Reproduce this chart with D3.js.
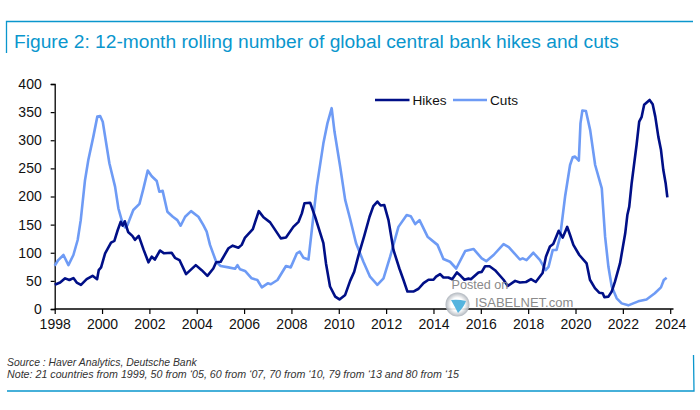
<!DOCTYPE html>
<html><head><meta charset="utf-8">
<script src="https://cdn.jsdelivr.net/npm/d3@7"></script>
<style>html,body{margin:0;padding:0;background:#fff}svg{display:block}text{font-family:"Liberation Sans",Arial,sans-serif}</style>
</head><body><svg id="c" width="700" height="410"></svg>
<script>
const title = "Figure 2: 12-month rolling number of global central bank hikes and cuts";
const sourceLine = "Source : Haver Analytics, Deutsche Bank";
const noteLine = "Note: 21 countries from 1999, 50 from ‘05, 60 from ‘07, 70 from ‘10, 79 from ‘13 and 80 from ‘15";
const yTicks = [0,50,100,150,200,250,300,350,400];
const xTicks = [1998,2000,2002,2004,2006,2008,2010,2012,2014,2016,2018,2020,2022,2024];
const hikesYears = [1998,1998.23,1998.44,1998.62,1998.79,1998.93,1999.11,1999.35,1999.6,1999.79,1999.86,1999.96,2000.13,2000.38,2000.52,2000.66,2000.79,2000.87,2000.96,2001.1,2001.28,2001.39,2001.55,2001.75,2001.96,2002.1,2002.23,2002.45,2002.62,2002.94,2003.08,2003.27,2003.55,2003.96,2004.21,2004.45,2004.7,2004.82,2005.01,2005.34,2005.52,2005.76,2005.9,2006.04,2006.37,2006.62,2006.82,2007.1,2007.55,2007.77,2008.08,2008.3,2008.44,2008.55,2008.79,2009,2009.35,2009.46,2009.63,2009.85,2010.03,2010.27,2010.48,2010.65,2010.83,2011.07,2011.3,2011.46,2011.63,2011.77,2011.92,2012.1,2012.31,2012.56,2012.73,2012.9,2013.15,2013.37,2013.58,2013.79,2014,2014.11,2014.28,2014.42,2014.63,2014.79,2014.99,2015.15,2015.31,2015.48,2015.58,2015.9,2016.04,2016.18,2016.37,2016.6,2016.96,2017.14,2017.45,2017.65,2017.91,2018.12,2018.32,2018.61,2018.75,2018.92,2019.06,2019.29,2019.46,2019.56,2019.65,2019.77,2019.91,2020.16,2020.47,2020.61,2020.82,2021,2021.15,2021.22,2021.39,2021.53,2021.67,2021.88,2022.1,2022.19,2022.27,2022.37,2022.58,2022.69,2022.79,2022.9,2023.13,2023.26,2023.37,2023.5,2023.61,2023.71,2023.81,2023.88];
const hikesValues = [43,47,54.5,51.5,55,47,43,53,59,53,69,74,99,118,121,140,155,148,156,137,130,123,130,106,83,93,88,104,99,100,91,87,62,78,69,59,72,83,84,108,112.6,109,114,127,142,174,163,154,125.6,127,146,155,170,188,189,164,117,81,40,22,17,25,50,66,95,129,164,183,191,184,185,158,105,72,52,31,31,36,46,52,52,57.5,62,56,56,53,65,59,52,54,53,65,66,76,76,69,52,41,50,47,48,53,48,64,93,111,115.5,139,127,137,146,131.6,114,96,81,52,37,29,28,21,22,31,49,81,134.5,167,182,223,292,333,341,363,371.6,364,342,306,283,247,223,198.5];
const cutsYears = [1998,1998.15,1998.37,1998.58,1998.79,1998.97,1999.1,1999.28,1999.42,1999.63,1999.8,1999.92,2000.03,2000.31,2000.55,2000.69,2000.83,2000.97,2001.07,2001.18,2001.32,2001.58,2001.75,2001.93,2002.1,2002.31,2002.42,2002.56,2002.76,2002.99,2003.18,2003.32,2003.51,2003.76,2004.07,2004.28,2004.42,2004.56,2004.82,2005.01,2005.34,2005.62,2005.72,2005.83,2006.04,2006.32,2006.56,2006.75,2007,2007.13,2007.41,2007.77,2007.97,2008.23,2008.35,2008.51,2008.72,2008.86,2009.07,2009.35,2009.52,2009.7,2009.82,2010.06,2010.27,2010.48,2010.73,2011.04,2011.32,2011.63,2011.89,2012.17,2012.52,2012.87,2013.04,2013.23,2013.41,2013.75,2014.17,2014.42,2014.7,2014.96,2015.34,2015.69,2016.04,2016.23,2016.54,2016.96,2017.18,2017.65,2017.77,2017.93,2018.22,2018.5,2018.74,2018.86,2019.04,2019.2,2019.35,2019.56,2019.77,2019.88,2019.98,2020.14,2020.21,2020.29,2020.44,2020.62,2020.83,2021.11,2021.25,2021.39,2021.53,2021.74,2021.95,2022.23,2022.65,2023,2023.35,2023.61,2023.73,2023.85];
const cutsValues = [77,87,96,78,96,122.7,158,229,265,306,342,343,333,259,217.5,179,158,145,149,161,176,187,214.5,246,236,227.5,208.6,210,173,164,158,148,164,174,164,149,137.5,114,84,76.4,74,71.7,78,70.5,67.6,54.5,51.6,38.5,45.6,44,51.6,76.4,74,99,102,91,88,140,217.5,294.5,330,357,315,253,194,160,117,84,57.5,43,54.5,93,146,167,165,151,158,128.6,114,89,84,72,103,106.7,90,85,96,115.5,110,88,90,87,100,87,69,75,105,105,128.6,200,256,269.6,271,263.7,330,353,352,318,256,214.5,128.6,75,40,19,10,6.5,13.6,17,28,38.5,51.6,55.7];
const seriesNames = ["Hikes","Cuts"];
const seriesColors = ["#000F87","#6E9BF5"];

const svg = d3.select("#c");
const x = d3.scaleLinear().domain([1998,2024]).range([54.7,670.2]);
const y = d3.scaleLinear().domain([0,400]).range([309,84]);
const blue = "#0A96CD";

const frame = d3.path();
frame.moveTo(6.5,53); frame.lineTo(6.5,21.5); frame.lineTo(693,21.5);
frame.moveTo(7,391); frame.lineTo(694,391); frame.lineTo(693.5,355);
svg.append("path").attr("d",frame.toString()).attr("fill","none").attr("stroke",blue).attr("stroke-width",1.3);

svg.append("text").attr("x",14).attr("y",47.5).attr("fill",blue).attr("font-size",19.2).text(title);

const ax = svg.append("g").attr("transform","translate(0,309)")
  .call(d3.axisBottom(x).tickValues(xTicks).tickFormat(d3.format("d")).tickSize(5).tickPadding(5.5));
const ay = svg.append("g").attr("transform","translate(54.7,0)")
  .call(d3.axisLeft(y).tickValues(yTicks).tickSize(4).tickPadding(9));
[ax,ay].forEach(g=>{
  g.selectAll("path.domain").attr("stroke","#000").attr("stroke-width",1.3);
  g.selectAll("line").attr("stroke","#000").attr("stroke-width",1.2);
  g.selectAll("text").attr("fill","#111").attr("font-size",14).attr("font-family",'"Liberation Sans",Arial,sans-serif');
});
ax.select("path.domain").attr("d","M54.7,0H673.5");

const line = d3.line().x(d=>x(d[0])).y(d=>y(d[1])).curve(d3.curveLinear);
svg.append("path").datum(d3.zip(cutsYears,cutsValues)).attr("d",line).attr("fill","none")
  .attr("stroke",seriesColors[1]).attr("stroke-width",2.6).attr("stroke-linejoin","round");
svg.append("path").datum(d3.zip(hikesYears,hikesValues)).attr("d",line).attr("fill","none")
  .attr("stroke",seriesColors[0]).attr("stroke-width",2.6).attr("stroke-linejoin","round");

// legend
const lg = [[375,409.5,412.5],[453,487,490]];
seriesNames.forEach((n,i)=>{
  svg.append("line").attr("x1",lg[i][0]).attr("x2",lg[i][1]).attr("y1",100).attr("y2",100)
    .attr("stroke",seriesColors[i]).attr("stroke-width",2.6);
  svg.append("text").attr("x",lg[i][2]).attr("y",104.8).attr("fill","#111").attr("font-size",13.6).text(n);
});

// watermark
const wm = svg.append("g");
wm.append("text").attr("x",451.5).attr("y",288.5).attr("fill","#8a8a8a").attr("font-size",12.6).text("Posted on");
wm.append("text").attr("x",475).attr("y",306.5).attr("fill","#8a8a8a").attr("font-size",13).text("ISABELNET.com");
const defs = svg.append("defs");
const rg = defs.append("radialGradient").attr("id","g");
rg.append("stop").attr("offset","0.55").attr("stop-color","#fff");
rg.append("stop").attr("offset","1").attr("stop-color","#a9b0b8");
wm.append("circle").attr("cx",457.5).attr("cy",304.5).attr("r",12).attr("fill","url(#g)").attr("opacity",0.9);
wm.append("path").attr("d","M451,300 Q458,299 466,301 Q464,307 458,313 Q455,307 451,300Z").attr("fill","#55B4DE");

svg.append("text").attr("x",7).attr("y",366).attr("fill","#333").attr("font-size",10.4).attr("font-style","italic").text(sourceLine);
svg.append("text").attr("x",7).attr("y",377.5).attr("fill","#333").attr("font-size",10.68).attr("font-style","italic").text(noteLine);
</script></body></html>
